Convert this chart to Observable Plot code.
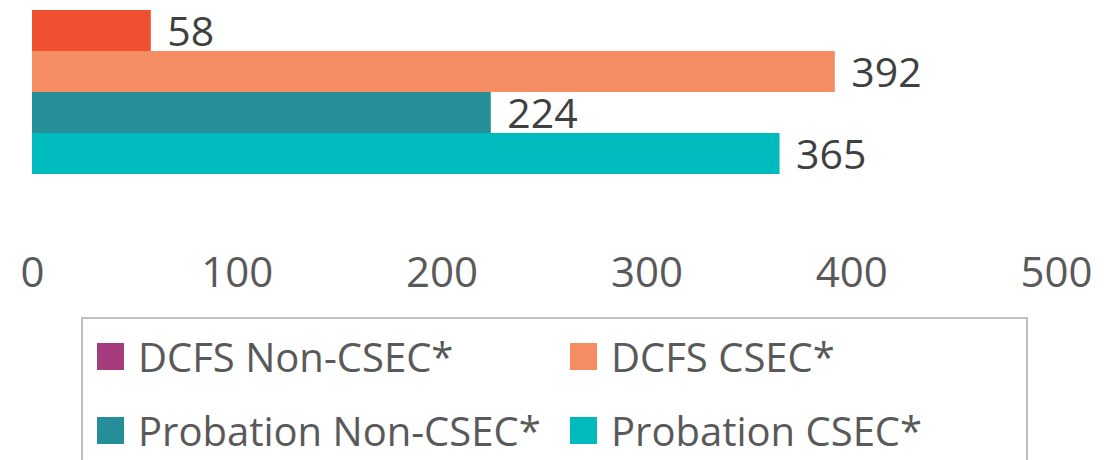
<!DOCTYPE html>
<html>
<head>
<meta charset="utf-8">
<script src="https://cdn.jsdelivr.net/npm/d3@7"></script>
<script src="https://cdn.jsdelivr.net/npm/@observablehq/plot@0.6"></script>
<style>
  html, body { margin: 0; padding: 0; background: #fff; overflow: hidden; }
  body { width: 1109px; height: 460px; position: relative; font-family: "Open Sans", sans-serif; }
  #chart { position: absolute; left: 0; top: 0; }
  #legend { position: absolute; left: 81px; top: 317px; width: 947px; height: 200px;
            border: 2px solid #BFBFBF; box-sizing: border-box; }
  .item { position: absolute; display: flex; align-items: center; height: 50px;
          font-size: 40px; color: #595959; white-space: nowrap; }
  .sw { width: 27px; height: 27px; margin-right: 14px; flex: none; }
</style>
</head>
<body>
<div id="chart"></div>
<div id="legend"></div>
<script>
const categories = ["DCFS Non-CSEC*", "DCFS CSEC*", "Probation Non-CSEC*", "Probation CSEC*"];
const values = [58, 392, 224, 365];
const barColors = ["#EF5030", "#F68D62", "#258E99", "#00BBBE"];
const legendColors = ["#A53C7E", "#F68D62", "#258E99", "#00BBBE"];
const xTicks = [0, 100, 200, 300, 400, 500];

const data = categories.map((c, i) => ({category: c, value: values[i]}));

const chart = Plot.plot({
  width: 1109,
  height: 317,
  marginLeft: 32,
  marginRight: 53,
  marginTop: 10,
  marginBottom: 143,
  style: {fontFamily: "'Open Sans', sans-serif", color: "#595959", background: "#fff"},
  x: {domain: [0, 500], axis: null},
  y: {domain: categories, padding: 0, axis: null},
  color: {domain: categories, range: barColors},
  marks: [
    Plot.barX(data, {x: "value", y: "category", fill: "category"}),
    Plot.text(data, {x: "value", y: "category", text: d => String(d.value),
      textAnchor: "start", dx: 16, dy: 2, fontSize: 41, fill: "#404040"}),
    Plot.axisX(xTicks, {tickSize: 0, tickPadding: 83, fontSize: 42, fill: "#595959",
      label: null, tickFormat: d => String(d)})
  ]
});
document.getElementById("chart").appendChild(chart);

// legend (positions relative to legend box)
const legend = document.getElementById("legend");
const pos = [[14, 12], [487, 12], [14, 86], [487, 86]];
categories.forEach((c, i) => {
  const it = document.createElement("div");
  it.className = "item";
  it.style.left = pos[i][0] + "px";
  it.style.top = pos[i][1] + "px";
  const sw = document.createElement("span");
  sw.className = "sw";
  sw.style.background = legendColors[i];
  const tx = document.createElement("span");
  tx.textContent = c;
  it.appendChild(sw);
  it.appendChild(tx);
  legend.appendChild(it);
});
</script>
</body>
</html>
